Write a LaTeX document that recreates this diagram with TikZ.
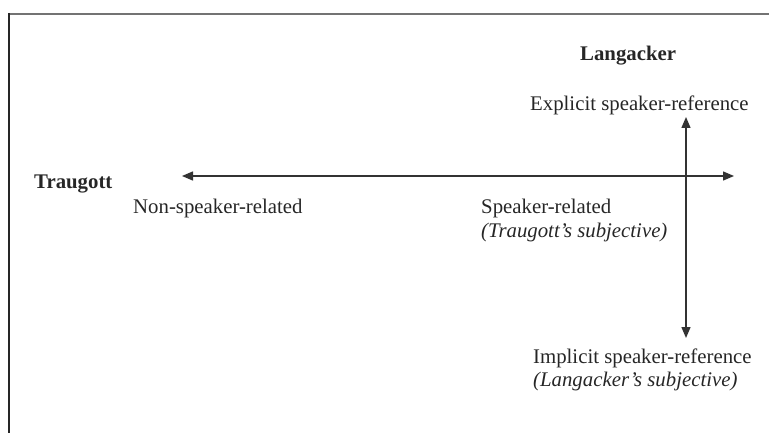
\documentclass[tikz,border=0pt]{standalone}
\usepackage{fontspec}
\setmainfont{Liberation Serif}
\usetikzlibrary{arrows.meta}
\begin{document}
\begin{tikzpicture}[x=1pt,y=-1pt,
  lbl/.style={anchor=base west,inner sep=0pt,font=\fontsize{20.8}{25}\selectfont,text=black!85},
  hd/.style={lbl,font=\fontsize{20.8}{25}\selectfont\bfseries},
  axis/.style={line width=1.4pt,black!80,{Triangle[length=11pt,width=9pt]}-{Triangle[length=11pt,width=9pt]}}]
\useasboundingbox (0,0) rectangle (769,433);
\draw[line width=2pt,black!55] (8,14) -- (769,14);
\draw[line width=2pt,black!85] (9,13) -- (9,433);
\node[hd] (lang) at (580,61) {Langacker};
\node[lbl] (expl) at (530,111) {Explicit speaker-reference};
\node[hd] (trau) at (34,189) {Traugott};
\node[lbl] (nonsp) at (133,214) {Non-speaker-related};
\node[lbl] (sp) at (481,214) {Speaker-related};
\node[lbl] (spi) at (481,237) {\itshape (Traugott’s subjective)};
\node[lbl] (impl) at (533,363) {Implicit speaker-reference};
\node[lbl] (impli) at (533,386) {\itshape (Langacker’s subjective)};
\coordinate (hl) at (182,176);
\coordinate (hr) at (734,176);
\coordinate (vt) at (686,117);
\coordinate (vb) at (686,338);
\draw[axis] (hl) -- (hr);
\draw[axis] (vt) -- (vb);
\end{tikzpicture}
\end{document}
